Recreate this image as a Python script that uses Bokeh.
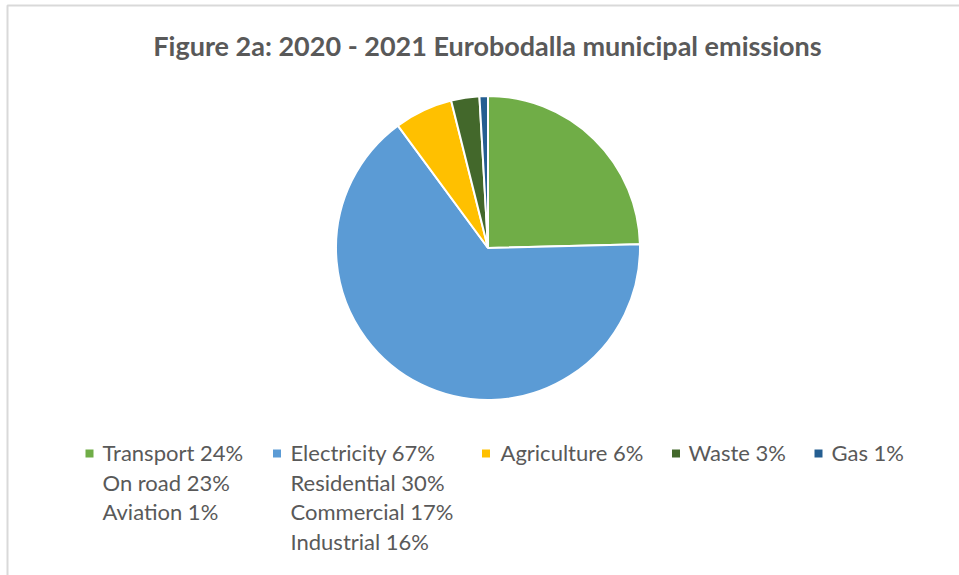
import math
from bokeh.plotting import figure
from bokeh.models import Range1d, ColumnDataSource
from bokeh.core.properties import value
from bokeh.embed import file_html
from bokeh.resources import INLINE

# ---- data ----
title = "Figure 2a: 2020 - 2021 Eurobodalla municipal emissions"
categories = ["Transport", "Electricity", "Agriculture", "Waste", "Gas"]
shares = [24.6, 65.3, 6.2, 3.0, 0.9]          # slice sizes
colors = ["#70AD47", "#5B9BD5", "#FFC000", "#43682B", "#255E91"]
legend_lines = [
    ["Transport 24%", "On road 23%", "Aviation 1%"],
    ["Electricity 67%", "Residential 30%", "Commercial 17%", "Industrial 16%"],
    ["Agriculture 6%"],
    ["Waste 3%"],
    ["Gas 1%"],
]

W, H = 959, 575
FONT = "Lato"
TXT = "#595959"

p = figure(width=W, height=H, output_backend="svg", toolbar_location=None,
           x_range=Range1d(0, W), y_range=Range1d(0, H), min_border=0,
           outline_line_color=None, background_fill_color="white",
           border_fill_color="white")
p.axis.visible = False
p.grid.visible = False

def py(y):  # page pixel y -> data y
    return H - y

# border (chart area frame)
p.quad(left=[7], right=[W + 20], top=[py(5)], bottom=[-20],
       fill_color=None, line_color="#D9D9D9", line_width=2)

# pie
cx, cy, r = 487.5, py(247.5), 152
total = sum(shares)
starts, ends = [], []
cum = 0.0
for s in shares:
    a0 = math.pi / 2 - 2 * math.pi * cum / total
    cum += s
    a1 = math.pi / 2 - 2 * math.pi * cum / total
    starts.append(a1)
    ends.append(a0)
src = ColumnDataSource(dict(cat=categories, start=starts, end=ends, color=colors))
p.wedge(x=cx, y=cy, radius=r, start_angle="start", end_angle="end",
        fill_color="color", line_color="white", line_width=2, source=src)

# title
p.text(x=[487], y=[py(45)], text=[title], text_font=value(FONT),
       text_font_style="bold", text_font_size="27px", text_color=TXT,
       text_align="center", text_baseline="middle")

# legend
marker_x = [89, 276.5, 485.5, 675.5, 818]
text_x = [102, 290, 500, 688, 831]
mid0, step = 452, 29.5
for i, lines in enumerate(legend_lines):
    p.scatter(x=[marker_x[i]], y=[py(453)], marker="square", size=8,
              fill_color=colors[i], line_color=None)
    ys = [py(mid0 + k * step) for k in range(len(lines))]
    p.text(x=[text_x[i]] * len(lines), y=ys, text=lines, text_font=value(FONT),
           text_font_size="22px", text_color=TXT, text_align="left",
           text_baseline="middle")

open("out.html", "w").write(file_html(p, INLINE))
